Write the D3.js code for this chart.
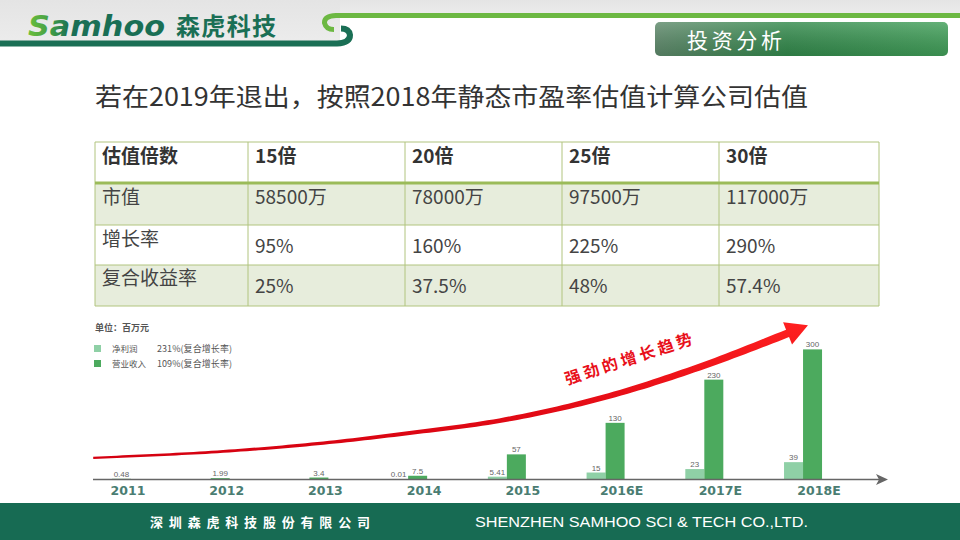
<!DOCTYPE html>
<html><head><meta charset="utf-8">
<script src="https://cdn.jsdelivr.net/npm/d3@7/dist/d3.min.js"></script>
<style>
html,body{margin:0;padding:0;background:#fff;}
svg{display:block;}
</style></head>
<body>
<script>
// ---------- data ----------
const categories = ["2011","2012","2013","2014","2015","2016E","2017E","2018E"];
const netProfit = [null, null, null, 0.01, 5.41, 15, 23, 39];
const netProfitLabels = [null, null, null, "0.01", "5.41", "15", "23", "39"];
const revenue = [0.48, 1.99, 3.4, 7.5, 57, 130, 230, 300];
const revenueLabels = ["0.48", "1.99", "3.4", "7.5", "57", "130", "230", "300"];
const seriesNames = ["净利润", "营业收入"];
const seriesGrowth = ["231%(复合增长率)", "109%(复合增长率)"];
const unitLabel = "单位：百万元";
const trendLabel = "强劲的增长趋势";
// trend arrow path in data units (category index, value)
const trendIdx = [-0.19, 1, 2, 3, 4, 5, 6, 7.05];
const trendVal = [49, 62, 80, 106, 138, 190, 263, 356];

const tableHeader = ["估值倍数", "15倍", "20倍", "25倍", "30倍"];
const rowLabels = ["市值", "增长率", "复合收益率"];
const marketValue = ["58500万", "78000万", "97500万", "117000万"];
const growthRate = ["95%", "160%", "225%", "290%"];
const compoundReturn = ["25%", "37.5%", "48%", "57.4%"];

const titleText = "若在2019年退出，按照2018年静态市盈率估值计算公司估值";
const sectionText = "投资分析";
const footerCN = "深圳森虎科技股份有限公司";
const footerEN = "SHENZHEN SAMHOO SCI & TECH CO.,LTD.";

// ---------- svg ----------
const W = 960, H = 540;
const svg = d3.select("body").append("svg").attr("width", W).attr("height", H);
const defs = svg.append("defs");
const CJK = "'Noto Sans CJK SC','Noto Sans',sans-serif";

// header background
const hg = defs.append("linearGradient").attr("id","hdrg").attr("x1",0).attr("y1",0).attr("x2",0).attr("y2",1);
hg.append("stop").attr("offset","0%").attr("stop-color","#e4e4e4");
hg.append("stop").attr("offset","100%").attr("stop-color","#ececec");
svg.append("rect").attr("x",0).attr("y",0).attr("width",W).attr("height",15).attr("fill","url(#hdrg)");
svg.append("rect").attr("x",0).attr("y",0).attr("width",340).attr("height",43).attr("fill","url(#hdrg)");

// decorative lines
svg.append("path").attr("d","M 960 15.5 L 336 15.5 Q 324 16 324.5 23 Q 326 29.5 334 29.5")
  .attr("fill","none").attr("stroke","#6cb842").attr("stroke-width",5).attr("stroke-linecap","butt");
svg.append("path").attr("d","M 0 43.5 L 337 43.5 Q 350 43 350 35 Q 349 28.5 341 28.5")
  .attr("fill","none").attr("stroke","#1a6f55").attr("stroke-width",6);

// logo
const lg = defs.append("linearGradient").attr("id","logog").attr("x1",0).attr("y1",0).attr("x2",1).attr("y2",0);
lg.append("stop").attr("offset","0%").attr("stop-color","#6cbf3c");
lg.append("stop").attr("offset","18%").attr("stop-color","#3e9a48");
lg.append("stop").attr("offset","30%").attr("stop-color","#1a6f55");
lg.append("stop").attr("offset","100%").attr("stop-color","#1a6f55");
svg.append("text").attr("x",28).attr("y",36).attr("font-family","'DejaVu Sans',sans-serif")
  .attr("font-size",29).attr("font-weight","bold").attr("font-style","italic")
  .attr("textLength",137).attr("lengthAdjust","spacingAndGlyphs")
  .attr("fill","url(#logog)").text("Samhoo");
svg.append("text").attr("x",176).attr("y",35).attr("font-family",CJK)
  .attr("font-size",24).attr("font-weight","bold").attr("fill","#1a6f55")
  .attr("textLength",100).text("森虎科技");

// section box
const bg = defs.append("linearGradient").attr("id","boxg").attr("x1",0).attr("y1",0).attr("x2",1).attr("y2",0);
bg.append("stop").attr("offset","0%").attr("stop-color","#5f8a6c");
bg.append("stop").attr("offset","45%").attr("stop-color","#338a4c");
bg.append("stop").attr("offset","100%").attr("stop-color","#42a05a");
const bv = defs.append("linearGradient").attr("id","boxv").attr("x1",0).attr("y1",0).attr("x2",0).attr("y2",1);
bv.append("stop").attr("offset","0%").attr("stop-color","#ffffff").attr("stop-opacity",0.18);
bv.append("stop").attr("offset","100%").attr("stop-color","#000000").attr("stop-opacity",0.12);
svg.append("rect").attr("x",655).attr("y",22).attr("width",293).attr("height",34).attr("rx",5)
  .attr("fill","url(#boxg)");
svg.append("rect").attr("x",655).attr("y",22).attr("width",293).attr("height",34).attr("rx",5)
  .attr("fill","url(#boxv)");
svg.append("text").attr("x",687).attr("y",48).attr("font-family",CJK).attr("font-size",21)
  .attr("fill","#ffffff").attr("textLength",95).text(sectionText);

// title
svg.append("text").attr("x",95).attr("y",106).attr("font-family",CJK).attr("font-size",25)
  .attr("fill","#333333").attr("textLength",713).attr("lengthAdjust","spacingAndGlyphs").text(titleText);

// ---------- table ----------
const colX = [95, 248, 405, 562, 719, 879];
const rowY = [142, 183, 225, 265, 306];
const tableRows = [
  [rowLabels[0], ...marketValue],
  [rowLabels[1], ...growthRate],
  [rowLabels[2], ...compoundReturn]
];
const rowFill = ["#ffffff", "#e7eddc", "#ffffff", "#e7eddc"];
const tg = svg.append("g");
rowFill.forEach((f,i)=>{
  tg.append("rect").attr("x",colX[0]).attr("y",rowY[i]).attr("width",colX[5]-colX[0])
    .attr("height",rowY[i+1]-rowY[i]).attr("fill",f);
});
const bc = "#b1c47e";
rowY.forEach((y,i)=>{
  tg.append("line").attr("x1",colX[0]).attr("x2",colX[5]).attr("y1",y).attr("y2",y)
    .attr("stroke",bc).attr("stroke-width",1);
});
colX.forEach(x=>{
  tg.append("line").attr("x1",x).attr("x2",x).attr("y1",rowY[0]).attr("y2",rowY[4])
    .attr("stroke",bc).attr("stroke-width",1);
});
tg.append("line").attr("x1",colX[0]).attr("x2",colX[5]).attr("y1",rowY[1]).attr("y2",rowY[1])
  .attr("stroke","#9bbb59").attr("stroke-width",3);
tableHeader.forEach((t,j)=>{
  tg.append("text").attr("x",colX[j]+7).attr("y",163).attr("font-family",CJK)
    .attr("font-size",19).attr("font-weight","bold").attr("fill","#333333").text(t);
});
const labelBase = [204, 246, 285];
const valueBase = [204, 253, 293];
tableRows.forEach((r,i)=>{
  r.forEach((t,j)=>{
    tg.append("text").attr("x",colX[j]+7).attr("y", j===0 ? labelBase[i] : valueBase[i])
      .attr("font-family",CJK).attr("font-size",19).attr("fill","#444444").text(t);
  });
});

// ---------- chart ----------
const x = d3.scaleBand().domain(categories).range([62.6, 852.4]).padding(0);
const y = d3.scaleLinear().domain([0, 300]).range([479, 349.4]);
const bw = 19;
const cx = c => x(c) + x.bandwidth()/2;
const lightC = "#8fd0a6", darkC = "#4caa5e";

const cg = svg.append("g");
// unit & legend
cg.append("text").attr("x",95).attr("y",331).attr("font-family",CJK).attr("font-size",9)
  .attr("font-weight","bold").attr("fill","#555").text(unitLabel);
[lightC, darkC].forEach((c,i)=>{
  const yy = 345 + i*15;
  cg.append("rect").attr("x",94).attr("y",yy).attr("width",7).attr("height",7).attr("fill",c);
  cg.append("text").attr("x",112).attr("y",yy+7).attr("font-family",CJK).attr("font-size",8.5)
    .attr("fill","#555").text(seriesNames[i]);
  cg.append("text").attr("x",157).attr("y",yy+7).attr("font-family",CJK).attr("font-size",9)
    .attr("fill","#555").attr("textLength",75).text(seriesGrowth[i]);
});

// bars
categories.forEach((c,i)=>{
  if (netProfit[i] != null) {
    cg.append("rect").attr("x",cx(c)-bw).attr("width",bw)
      .attr("y",y(netProfit[i])).attr("height",Math.max(0.6, y(0)-y(netProfit[i]))).attr("fill",lightC);
    cg.append("text").attr("x",cx(c)-bw/2).attr("y",y(netProfit[i])-2).attr("text-anchor","middle")
      .attr("font-family","'Liberation Sans',Arial,sans-serif").attr("font-size",8).attr("fill","#666")
      .text(netProfitLabels[i]);
  }
  cg.append("rect").attr("x",cx(c)).attr("width",bw)
    .attr("y",y(revenue[i])).attr("height",Math.max(0.6, y(0)-y(revenue[i]))).attr("fill",darkC);
  cg.append("text").attr("x",cx(c)+bw/2).attr("y",y(revenue[i])-2).attr("text-anchor","middle")
    .attr("font-family","'Liberation Sans',Arial,sans-serif").attr("font-size",8).attr("fill","#666")
    .text(revenueLabels[i]);
});

// axis
cg.append("line").attr("x1",93).attr("x2",880).attr("y1",479.5).attr("y2",479.5)
  .attr("stroke","#666").attr("stroke-width",1.6);
cg.append("path").attr("d","M 888 479.5 L 876 474 L 879 479.5 L 876 485 Z").attr("fill","#666");
const ax = cg.append("g").attr("transform","translate(0,481)")
  .call(d3.axisBottom(x).tickSize(0).tickPadding(5));
ax.select(".domain").remove();
ax.selectAll("text").attr("dx",16).attr("font-family","'DejaVu Sans',sans-serif")
  .attr("font-size",12.5).attr("font-weight","bold").attr("fill","#4a7d72");

// trend arrow (tapered)
const trendPts = trendIdx.map((t,i)=>[x.range()[0] + x.bandwidth()*(t+0.5), y(trendVal[i])]);
const tmp = cg.append("path").attr("d", d3.line().curve(d3.curveCatmullRom)(trendPts))
  .attr("fill","none").attr("stroke","none");
const node = tmp.node();
const L = node.getTotalLength();
const headLen = 22;
const bodyL = L - headLen;
const left = [], right = [];
const N = 120;
for (let k=0;k<=N;k++){
  const s = bodyL*k/N;
  const p = node.getPointAtLength(s);
  const p2 = node.getPointAtLength(Math.min(L, s+0.5));
  const p1 = node.getPointAtLength(Math.max(0, s-0.5));
  const dx = p2.x-p1.x, dy = p2.y-p1.y, len = Math.hypot(dx,dy)||1;
  const nx = -dy/len, ny = dx/len;
  const w = 1.2 + 2.8*Math.pow(k/N, 1.6);
  left.push([p.x+nx*w, p.y+ny*w]);
  right.push([p.x-nx*w, p.y-ny*w]);
}
const tip = node.getPointAtLength(L);
const base = node.getPointAtLength(bodyL);
const bdx = tip.x-base.x, bdy = tip.y-base.y, bl = Math.hypot(bdx,bdy);
const bnx = -bdy/bl, bny = bdx/bl;
const hw = 12;
const poly = left.concat([[base.x+bnx*hw, base.y+bny*hw],[tip.x,tip.y],[base.x-bnx*hw, base.y-bny*hw]], right.reverse());
tmp.remove();
const rg = defs.append("linearGradient").attr("id","redg").attr("x1",0).attr("y1",0).attr("x2",0).attr("y2",1);
rg.append("stop").attr("offset","0%").attr("stop-color","#ff2020");
rg.append("stop").attr("offset","100%").attr("stop-color","#d40010");
cg.append("path").attr("d", "M" + poly.map(p=>p.join(",")).join("L") + "Z").attr("fill","url(#redg)");

// trend label
cg.append("text").attr("transform","translate(567,385) rotate(-18)")
  .attr("font-family",CJK).attr("font-size",16).attr("font-weight","bold").attr("fill","#e8101a")
  .attr("letter-spacing",3.5).text(trendLabel);

// ---------- footer ----------
svg.append("rect").attr("x",0).attr("y",503).attr("width",W).attr("height",37).attr("fill","#176b53");
svg.append("text").attr("x",150).attr("y",527).attr("font-family",CJK).attr("font-size",13)
  .attr("font-weight","bold").attr("fill","#ffffff").attr("textLength",220).text(footerCN);
svg.append("text").attr("x",475).attr("y",527).attr("font-family","'Liberation Sans Narrow','Liberation Sans',Arial,sans-serif")
  .attr("font-size",15).attr("fill","#ffffff").attr("textLength",333).attr("lengthAdjust","spacingAndGlyphs").text(footerEN);
</script>
</body></html>
